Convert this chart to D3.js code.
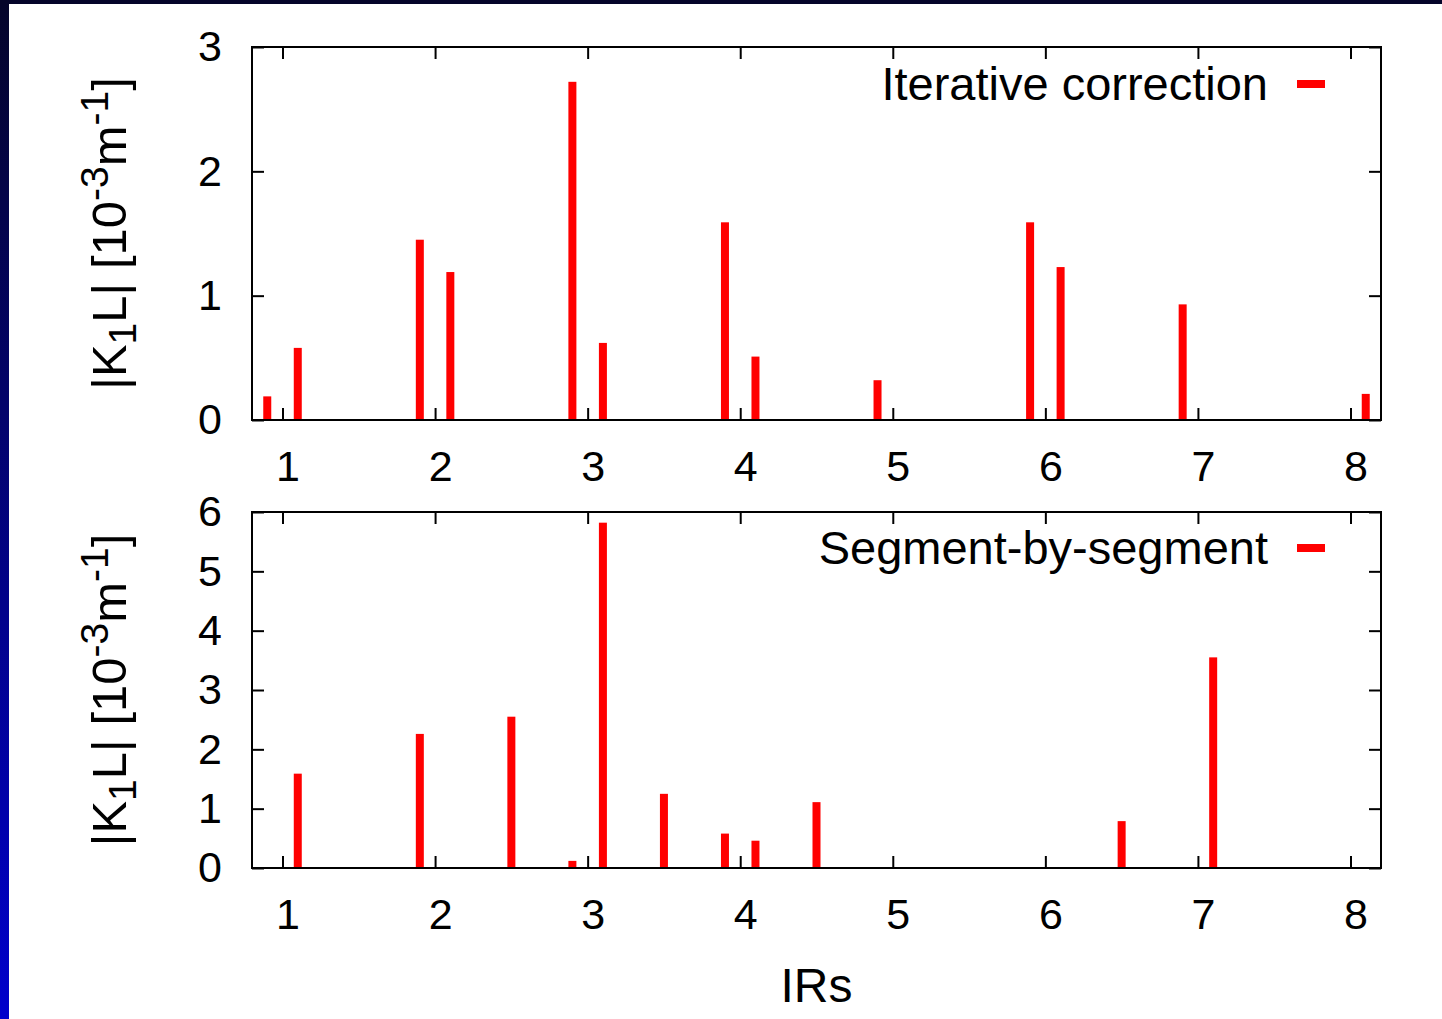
<!doctype html>
<html>
<head>
    <meta charset="utf8">
    <script src="https://d3js.org/d3.v7.min.js"></script>
    <style>
        body { margin: 0; background: #fff; }
        text { font-family: "Liberation Sans", Arial, sans-serif; fill: #000; }
        .bar { fill: #ff0000; }
    </style>
</head>
<body>
<svg width="1442" height="1019"></svg>
<script>
    // IR positions and |K1L| values (10^-3 m^-1)
    var iterPos = [0.9, 1.1, 1.9, 2.1, 2.9, 3.1, 3.9, 4.1, 4.9, 5.9, 6.1, 6.9, 8.1];
    var iterVal = [0.19, 0.58, 1.45, 1.19, 2.72, 0.62, 1.59, 0.51, 0.32, 1.59, 1.23, 0.93, 0.21];
    var segPos = [1.1, 1.9, 2.5, 2.9, 3.1, 3.5, 3.9, 4.1, 4.5, 6.5, 7.1];
    var segVal = [1.59, 2.26, 2.55, 0.12, 5.82, 1.25, 0.58, 0.46, 1.11, 0.79, 3.55];
    var xTicks = [1, 2, 3, 4, 5, 6, 7, 8];
    var iterTicks = [0, 1, 2, 3];
    var segTicks = [0, 1, 2, 3, 4, 5, 6];

    var svg = d3.select("svg");

    // blue frame on the left / top
    var grad = svg.append("defs").append("linearGradient")
        .attr("id", "side").attr("x1", 0).attr("y1", 0).attr("x2", 0).attr("y2", 1);
    grad.append("stop").attr("offset", "0%").attr("stop-color", "#05052a");
    grad.append("stop").attr("offset", "100%").attr("stop-color", "#0000cc");
    svg.append("rect").attr("width", 1442).attr("height", 1019).attr("fill", "#fff");
    svg.append("rect").attr("x", 0).attr("y", 0).attr("width", 9).attr("height", 1019).attr("fill", "url(#side)");
    svg.append("rect").attr("x", 0).attr("y", 0).attr("width", 1442).attr("height", 4).attr("fill", "#05052a");

    var left = 252, right = 1381;
    var x = d3.scaleLinear().domain([0.8, 8.2]).range([left, right]);

    function panel(top, bottom, pos, vals, yTicks, yMax, label, legendY) {
        var y = d3.scaleLinear().domain([0, yMax]).range([bottom, top]);
        var g = svg.append("g");

        g.selectAll(".bar")
         .data(pos)
         .enter().append("rect")
         .attr("class", "bar")
         .attr("x", function(d) { return x(d) - 4; })
         .attr("width", 8)
         .attr("y", function(d, i) { return y(vals[i]); })
         .attr("height", function(d, i) { return y(0) - y(vals[i]); });

        // axes with inward ticks, mirrored
        var axStyle = function(sel) {
            sel.select(".domain").remove();
            sel.selectAll(".tick line").attr("stroke", "#000").attr("stroke-width", 2);
            sel.selectAll(".tick text").attr("font-size", "43px")
               .attr("font-family", "Liberation Sans, Arial, sans-serif").attr("fill", "#000");
        };
        g.append("g").attr("transform", "translate(0," + bottom + ")")
         .call(d3.axisBottom(x).tickValues(xTicks).tickSizeInner(-12).tickPadding(30).tickFormat(d3.format("d")))
         .call(axStyle)
         .selectAll(".tick text").attr("dx", 5);
        g.append("g").attr("transform", "translate(0," + top + ")")
         .call(d3.axisTop(x).tickValues(xTicks).tickSizeInner(-12).tickFormat(""))
         .call(axStyle);
        g.append("g").attr("transform", "translate(" + left + ",0)")
         .call(d3.axisLeft(y).tickValues(yTicks).tickSizeInner(-12).tickPadding(30).tickFormat(d3.format("d")))
         .call(axStyle);
        g.append("g").attr("transform", "translate(" + right + ",0)")
         .call(d3.axisRight(y).tickValues(yTicks).tickSizeInner(-12).tickFormat(""))
         .call(axStyle);

        g.append("rect")
         .attr("x", left).attr("y", top)
         .attr("width", right - left).attr("height", bottom - top)
         .attr("fill", "none").attr("stroke", "#000").attr("stroke-width", 2);

        // y label
        var t = g.append("text")
         .attr("transform", "translate(126," + ((top + bottom) / 2) + ") rotate(-90)")
         .attr("text-anchor", "middle")
         .attr("font-size", "49px");
        t.append("tspan").text("|K");
        t.append("tspan").attr("font-size", "39px").attr("dy", "10").text("1");
        t.append("tspan").attr("dy", "-10").text("L|  [10");
        t.append("tspan").attr("font-size", "39px").attr("dy", "-18").text("-3");
        t.append("tspan").attr("dy", "18").text("m");
        t.append("tspan").attr("font-size", "39px").attr("dy", "-18").text("-1");
        t.append("tspan").attr("dy", "18").text("]");

        // legend
        g.append("text")
         .attr("x", 1268).attr("y", legendY)
         .attr("text-anchor", "end")
         .attr("font-size", "47px")
         .text(label);
        g.append("line")
         .attr("x1", 1297).attr("x2", 1325)
         .attr("y1", legendY - 16).attr("y2", legendY - 16)
         .attr("stroke", "#ff0000").attr("stroke-width", 8);
    }

    panel(47, 420, iterPos, iterVal, iterTicks, 3, "Iterative correction", 100);
    panel(512, 868, segPos, segVal, segTicks, 6, "Segment-by-segment", 564);

    svg.append("text")
       .attr("x", (left + right) / 2).attr("y", 1002)
       .attr("text-anchor", "middle")
       .attr("font-size", "48px")
       .text("IRs");
</script>
</body>
</html>
